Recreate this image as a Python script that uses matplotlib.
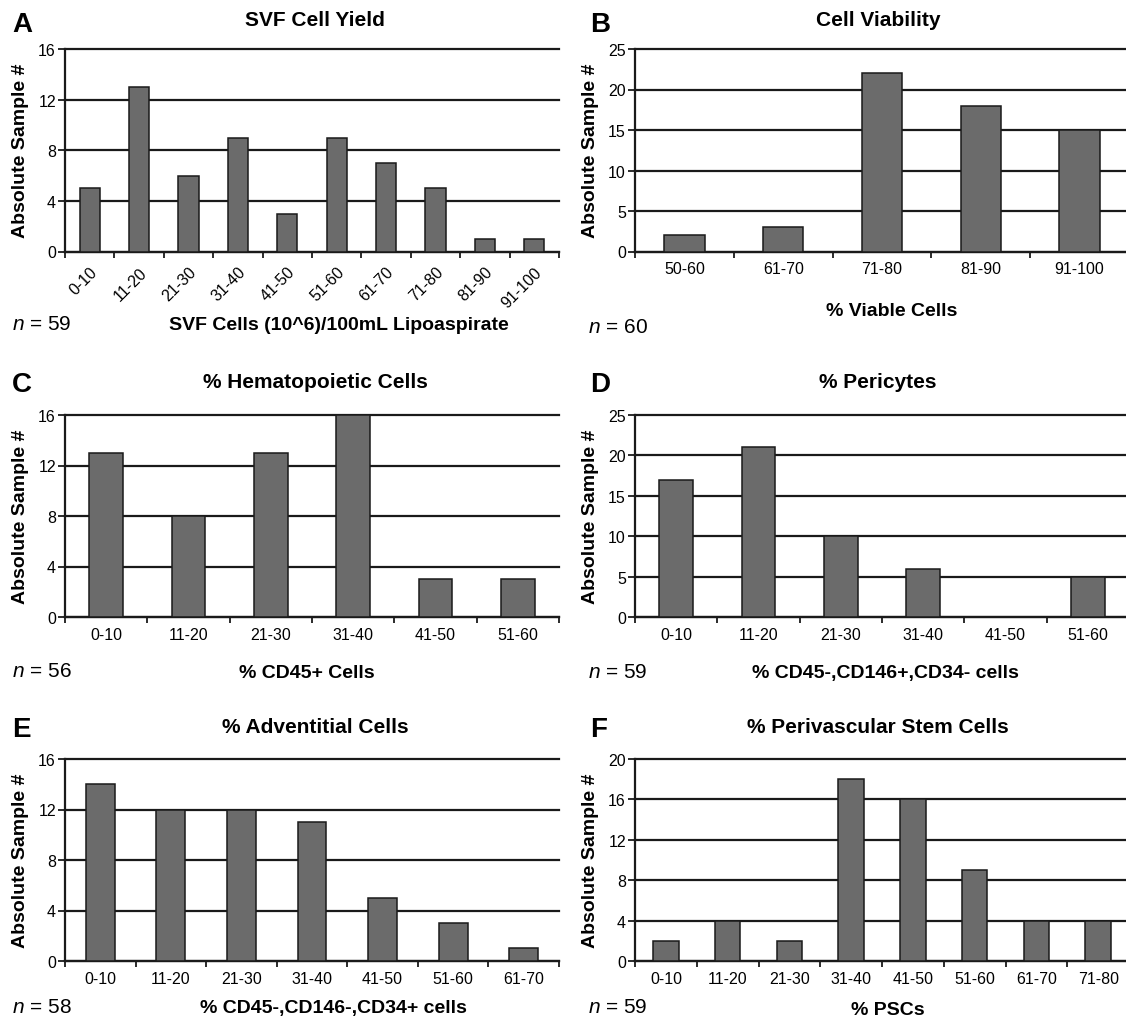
import numpy as np
import matplotlib
matplotlib.use("Agg")
import matplotlib.pyplot as plt

plt.rcParams["font.family"] = ["Liberation Sans", "DejaVu Sans"]
plt.rcParams["mathtext.fontset"] = "custom"
plt.rcParams["mathtext.it"] = "Liberation Sans:italic"
plt.rcParams["mathtext.rm"] = "Liberation Sans"

W, H = 1126, 1020

# --- data ---
yield_bins = ["0-10", "11-20", "21-30", "31-40", "41-50",
              "51-60", "61-70", "71-80", "81-90", "91-100"]
yield_counts = [5, 13, 6, 9, 3, 9, 7, 5, 1, 1]

viab_bins = ["50-60", "61-70", "71-80", "81-90", "91-100"]
viab_counts = [2, 3, 22, 18, 15]

hema_bins = ["0-10", "11-20", "21-30", "31-40", "41-50", "51-60"]
hema_counts = [13, 8, 13, 16, 3, 3]

peri_bins = ["0-10", "11-20", "21-30", "31-40", "41-50", "51-60"]
peri_counts = [17, 21, 10, 6, 0, 5]

adv_bins = ["0-10", "11-20", "21-30", "31-40", "41-50", "51-60", "61-70"]
adv_counts = [14, 12, 12, 11, 5, 3, 1]

psc_bins = ["0-10", "11-20", "21-30", "31-40",
            "41-50", "51-60", "61-70", "71-80"]
psc_counts = [2, 4, 2, 18, 16, 9, 4, 4]

letters = ["A", "B", "C", "D", "E", "F"]
titles = ["SVF Cell Yield", "Cell Viability", "% Hematopoietic Cells",
          "% Pericytes", "% Adventitial Cells", "% Perivascular Stem Cells"]
xlabels = ["SVF Cells (10^6)/100mL Lipoaspirate", "% Viable Cells",
           "% CD45+ Cells", "% CD45-,CD146+,CD34- cells",
           "% CD45-,CD146-,CD34+ cells", "% PSCs"]
n_values = [59, 60, 56, 59, 58, 59]
y_max = [16, 25, 16, 25, 16, 20]
y_step = [4, 5, 4, 5, 4, 4]

BAR = "#6b6b6b"
INK = "#1a1a1a"


def fx(x):
    return x / W


def fy(y):
    return 1 - y / H


fig = plt.figure(figsize=(W / 100, H / 100), dpi=100)

# pixel layout: column lefts, row (top, bottom)
col_left = [65, 635]
ax_w = 494
rows = [(50, 252.5), (416, 618), (760, 962)]
title_x = [315, 878]
letter_x = [12, 590]
n_x = [12, 588]
ylab_x = [29, 599]
xlab_x = [339, 892, 307, 885, 333, 888]
letter_base = [32, 392, 737]
title_base = [26, 388, 733]
xlab_base = [330, 316, 678, 678, 1013, 1015]
n_base = [330, 333, 677, 678, 1013, 1013]

data = [(yield_bins, yield_counts), (viab_bins, viab_counts),
        (hema_bins, hema_counts), (peri_bins, peri_counts),
        (adv_bins, adv_counts), (psc_bins, psc_counts)]

for i, (bins, counts) in enumerate(data):
    r, c = divmod(i, 2)
    top, bot = rows[r]
    ax = fig.add_axes([fx(col_left[c]), fy(bot), ax_w / W, (bot - top) / H])
    n = len(bins)
    x = np.arange(n)
    ax.bar(x, counts, width=0.41, color=BAR, edgecolor=INK,
           linewidth=1.1, zorder=3)
    ax.set_xlim(-0.5, n - 0.5)
    ax.set_ylim(0, y_max[i])
    ax.set_yticks(np.arange(0, y_max[i] + 1, y_step[i]))
    ax.yaxis.grid(True, color=INK, linewidth=1.6, clip_on=False)
    ax.set_axisbelow(True)
    for s in ["top", "right"]:
        ax.spines[s].set_visible(False)
    for s in ["left", "bottom"]:
        ax.spines[s].set_linewidth(1.6)
        ax.spines[s].set_color(INK)

    ax.set_xticks(x)
    if i == 0:
        ax.set_xticklabels(bins, rotation=45, ha="right", va="top",
                           rotation_mode="anchor")
        ax.tick_params(axis="x", which="major", length=0, pad=9,
                       labelsize=11.5)
    else:
        ax.set_xticklabels(bins)
        ax.tick_params(axis="x", which="major", length=0, pad=7,
                       labelsize=11.5)
    ax.set_xticks(np.arange(n + 1) - 0.5, minor=True)
    ax.tick_params(axis="x", which="minor", length=4, width=1.3,
                   color=INK, direction="out")
    ax.tick_params(axis="y", length=5, width=1.3, color=INK, pad=1.5,
                   labelsize=11.5)

    ax.set_ylabel("Absolute Sample #", fontsize=14, fontweight="bold")
    ax.yaxis.set_label_coords(fx(ylab_x[c]), fy((top + bot) / 2),
                              transform=fig.transFigure)

    fig.text(fx(letter_x[c]), fy(letter_base[r]), letters[i],
             fontsize=20, fontweight="bold", va="baseline", ha="left")
    fig.text(fx(title_x[c]), fy(title_base[r]), titles[i],
             fontsize=15, fontweight="bold", va="baseline", ha="center")
    fig.text(fx(xlab_x[i]), fy(xlab_base[i]), xlabels[i],
             fontsize=14, fontweight="bold", va="baseline", ha="center")
    fig.text(fx(n_x[c]), fy(n_base[i]), r"$n$ = %d" % n_values[i],
             fontsize=15, va="baseline", ha="left")

fig.savefig("out.png", dpi=100)
